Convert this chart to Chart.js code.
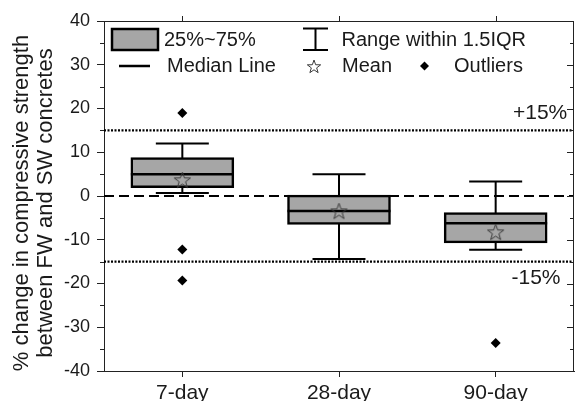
<!DOCTYPE html>
<html>
<head>
<meta charset="utf-8">
<script src="https://cdn.jsdelivr.net/npm/chart.js@4.4.1/dist/chart.umd.min.js"></script>
<style>
    html, body { margin: 0; padding: 0; overflow: hidden; background: #fff; }
    #boxChart { display: block; }
</style>
</head>
<body>
<canvas id="boxChart" width="584" height="401"></canvas>
<script>
// values
const categories = ['7-day', '28-day', '90-day'];
const q1Values = [1.9, -6.5, -10.7];
const q3Values = [8.8, 0.2, -3.8];
const medianValues = [5.0, -3.4, -6.2];
const whiskerLow = [0.7, -14.4, -12.3];
const whiskerHigh = [12.0, 5.0, 3.3];
const meanValues = [3.5, -3.6, -8.4];
const outlierCategory = ['7-day', '7-day', '7-day', '90-day'];
const outlierValues = [19.0, -12.2, -19.3, -33.6];
const yMin = -40, yMax = 40, yStep = 10, yMinorStep = 5;
const refLines = [15, -15];
const refLabels = ['+15%', '-15%'];
const axisTitle = ['% change in compressive strength', 'between FW and SW concretes'];
const legendLabels = ['25%~75%', 'Median Line', 'Range within 1.5IQR', 'Mean', 'Outliers'];

const FONT = "'Liberation Sans', Arial, sans-serif";
const TEXT = '#1a1a1a';
const BOX_FILL = '#a6a6a6';

function drawStar(g, cx, cy, r, color, lw) {
    const inner = r * 0.4;
    g.beginPath();
    for (let k = 0; k < 10; k++) {
        const rad = k % 2 === 0 ? r : inner;
        const a = -Math.PI / 2 + k * Math.PI / 5;
        const px = cx + rad * Math.cos(a), py = cy + rad * Math.sin(a);
        if (k === 0) g.moveTo(px, py); else g.lineTo(px, py);
    }
    g.closePath();
    g.strokeStyle = color;
    g.lineWidth = lw;
    g.stroke();
}

function makeStarImage(r) {
    const size = Math.ceil(r * 2 + 4);
    const c = document.createElement('canvas');
    c.width = size; c.height = size;
    drawStar(c.getContext('2d'), size / 2, size / 2, r, '#3a3a3a', 1);
    return c;
}

// whiskers behind boxes, median lines on top, reference lines, frame, legend, title
const boxExtras = {
    id: 'boxExtras',
    beforeDatasetsDraw(chart) {
        const { ctx, chartArea: a, scales: { x, y } } = chart;
        ctx.save();
        ctx.strokeStyle = '#000';
        ctx.lineWidth = 2;
        ctx.setLineDash([10, 5]);
        ctx.beginPath();
        ctx.moveTo(a.left, y.getPixelForValue(0));
        ctx.lineTo(a.right, y.getPixelForValue(0));
        ctx.stroke();
        ctx.lineWidth = 2.2;
        ctx.setLineDash([2, 1.5]);
        refLines.forEach(v => {
            ctx.beginPath();
            ctx.moveTo(a.left, y.getPixelForValue(v));
            ctx.lineTo(a.right, y.getPixelForValue(v));
            ctx.stroke();
        });
        ctx.setLineDash([]);
        ctx.lineWidth = 2;
        categories.forEach((c, i) => {
            const cx = x.getPixelForValue(i);
            const yl = y.getPixelForValue(whiskerLow[i]);
            const yh = y.getPixelForValue(whiskerHigh[i]);
            ctx.beginPath();
            ctx.moveTo(cx, yl); ctx.lineTo(cx, yh);
            ctx.moveTo(cx - 26.5, yl); ctx.lineTo(cx + 26.5, yl);
            ctx.moveTo(cx - 26.5, yh); ctx.lineTo(cx + 26.5, yh);
            ctx.stroke();
        });
        ctx.restore();
    },
    afterDatasetDraw(chart, args) {
        if (args.index !== 0) return;
        const { ctx, scales: { y } } = chart;
        const bars = chart.getDatasetMeta(0).data;
        ctx.save();
        ctx.strokeStyle = '#000';
        ctx.lineWidth = 2.5;
        bars.forEach((bar, i) => {
            const my = y.getPixelForValue(medianValues[i]);
            ctx.beginPath();
            ctx.moveTo(bar.x - bar.width / 2, my);
            ctx.lineTo(bar.x + bar.width / 2, my);
            ctx.stroke();
        });
        ctx.restore();
    },
    afterDraw(chart) {
        const { ctx, chartArea: a, scales: { x, y } } = chart;
        ctx.save();
        ctx.strokeStyle = '#222';
        ctx.lineWidth = 1;
        ctx.beginPath();
        ctx.moveTo(a.left, a.top + 0.5); ctx.lineTo(a.right, a.top + 0.5);
        ctx.moveTo(a.right - 0.5, a.top); ctx.lineTo(a.right - 0.5, a.bottom);
        ctx.stroke();
        ctx.beginPath();
        for (let v = yMin; v <= yMax; v += yMinorStep) {
            const py = Math.round(y.getPixelForValue(v)) + 0.5;
            const major = v % yStep === 0;
            if (!major) { ctx.moveTo(a.left - 4, py); ctx.lineTo(a.left, py); }
            ctx.moveTo(a.right, py); ctx.lineTo(a.right - (major ? 7 : 4), py);
        }
        categories.forEach((c, i) => {
            const px = Math.round(x.getPixelForValue(i)) + 0.5;
            ctx.moveTo(px, a.top); ctx.lineTo(px, a.top - 5);
        });
        ctx.stroke();

        ctx.fillStyle = TEXT;
        ctx.font = '21px ' + FONT;
        ctx.textBaseline = 'middle';
        ctx.textAlign = 'left';
        ctx.fillText(refLabels[0], 513, 113);
        ctx.fillText(refLabels[1], 511.5, 278);

        // legend
        ctx.fillStyle = BOX_FILL;
        ctx.fillRect(112, 29, 46, 21);
        ctx.strokeStyle = '#000';
        ctx.lineWidth = 2.5;
        ctx.strokeRect(112, 29, 46, 21);
        ctx.beginPath();
        ctx.moveTo(119, 66); ctx.lineTo(150, 66);
        ctx.stroke();
        ctx.lineWidth = 2;
        ctx.beginPath();
        ctx.moveTo(315.5, 28); ctx.lineTo(315.5, 50);
        ctx.moveTo(303, 28.5); ctx.lineTo(328, 28.5);
        ctx.moveTo(303, 50); ctx.lineTo(328, 50);
        ctx.stroke();
        drawStar(ctx, 314, 67, 7, '#3a3a3a', 1);
        ctx.fillStyle = '#000';
        ctx.beginPath();
        ctx.moveTo(424.5, 61.5); ctx.lineTo(429, 66); ctx.lineTo(424.5, 70.5); ctx.lineTo(420, 66);
        ctx.closePath();
        ctx.fill();
        ctx.fillStyle = TEXT;
        ctx.font = '20px ' + FONT;
        ctx.fillText(legendLabels[0], 164, 40);
        ctx.fillText(legendLabels[1], 167, 66);
        ctx.fillText(legendLabels[2], 341.5, 40);
        ctx.fillText(legendLabels[3], 342, 66);
        ctx.fillText(legendLabels[4], 454, 66);

        // y axis title
        ctx.font = '22px ' + FONT;
        ctx.textAlign = 'center';
        ctx.textBaseline = 'alphabetic';
        ctx.translate(0, 203);
        ctx.rotate(-Math.PI / 2);
        ctx.fillText(axisTitle[0], 0, 28);
        ctx.fillText(axisTitle[1], 0, 52);
        ctx.restore();
    }
};

const starImage = makeStarImage(8.5);

const ctx = document.getElementById('boxChart').getContext('2d');
new Chart(ctx, {
    type: 'bar',
    data: {
        labels: categories,
        datasets: [{
            label: legendLabels[0],
            data: categories.map((c, i) => [q1Values[i], q3Values[i]]),
            backgroundColor: BOX_FILL,
            borderColor: '#000',
            borderWidth: 2.5,
            borderSkipped: false,
            barThickness: 103,
            order: 2
        }, {
            label: legendLabels[3],
            type: 'scatter',
            data: meanValues.map((v, i) => ({ x: categories[i], y: v })),
            pointStyle: starImage,
            pointRadius: 9,
            order: 1
        }, {
            label: legendLabels[4],
            type: 'scatter',
            data: outlierValues.map((v, i) => ({ x: outlierCategory[i], y: v })),
            pointStyle: 'rectRot',
            pointRadius: 5,
            backgroundColor: '#000',
            borderColor: '#000',
            borderWidth: 0,
            order: 0
        }]
    },
    options: {
        responsive: false,
        animation: false,
        layout: { padding: { top: 21, right: 1, bottom: 0, left: 0 } },
        plugins: {
            legend: { display: false },
            tooltip: { enabled: false }
        },
        scales: {
            x: {
                type: 'category',
                offset: true,
                grid: { offset: false, drawOnChartArea: false, tickLength: 6, color: '#222' },
                border: { color: '#222', width: 1 },
                ticks: { font: { size: 21, family: FONT }, color: TEXT, padding: 4, maxRotation: 0 },
                afterFit: scale => { scale.height = 30; }
            },
            y: {
                type: 'linear',
                min: yMin,
                max: yMax,
                grid: { drawOnChartArea: false, tickLength: 7, color: '#222' },
                border: { color: '#222', width: 1 },
                ticks: { stepSize: yStep, font: { size: 18, family: FONT }, color: TEXT, padding: 7 },
                afterFit: scale => { scale.width = 104; }
            }
        }
    },
    plugins: [boxExtras]
});
</script>
</body>
</html>
